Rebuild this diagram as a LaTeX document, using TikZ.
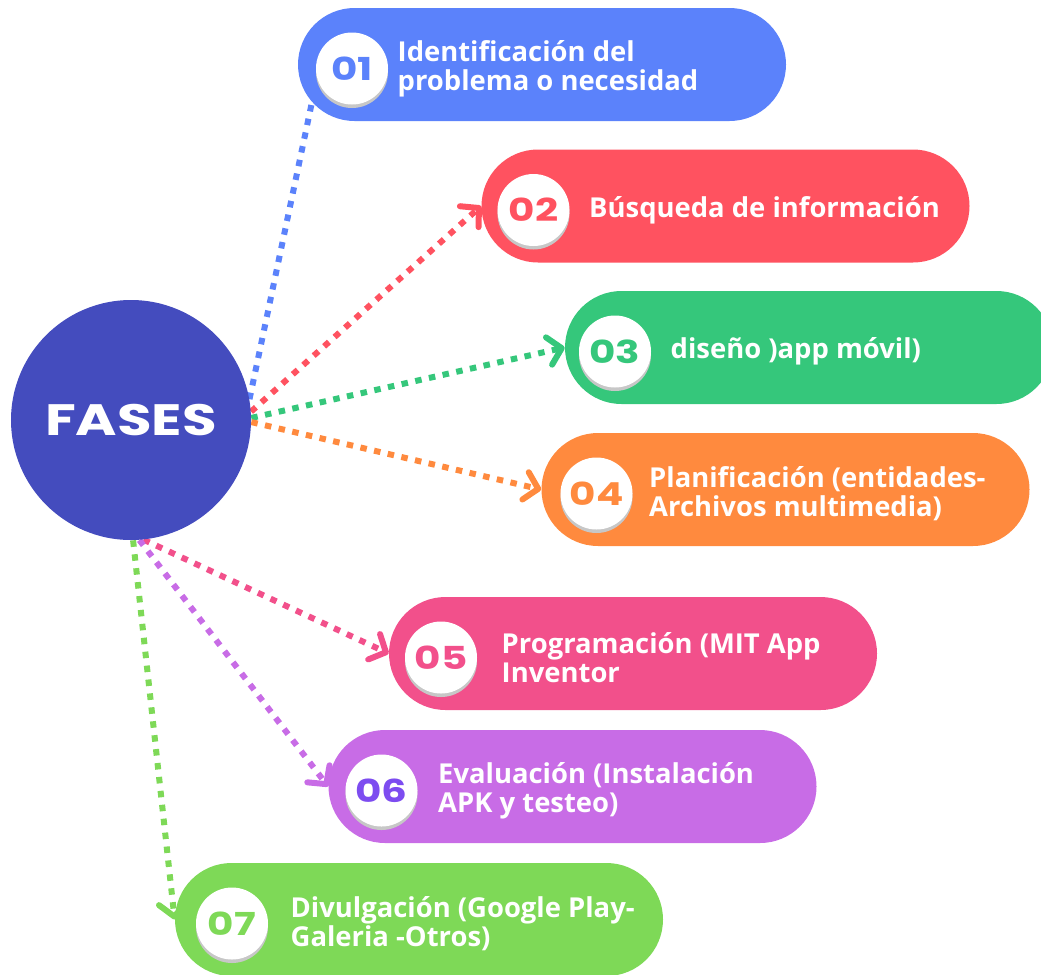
\documentclass[tikz,border=0pt]{standalone}
\usepackage{fontspec}
\setmainfont{Open Sans}
\newfontfamily\numfont{Poppins}[FakeStretch=1.28]
\usepackage{tikz}
\usepackage{xcolor}
\usetikzlibrary{shapes, arrows.meta, positioning, shadows, backgrounds}

\definecolor{fasesblue}{HTML}{444CBE}
\definecolor{pblue}{HTML}{5B82FB}
\definecolor{pred}{HTML}{FF5260}
\definecolor{pgreen}{HTML}{35C77B}
\definecolor{porange}{HTML}{FF8A3E}
\definecolor{ppink}{HTML}{F2508B}
\definecolor{ppurple}{HTML}{C86CE6}
\definecolor{pviolet}{HTML}{7D4CF0}
\definecolor{plime}{HTML}{7ED957}

\begin{document}
\begin{tikzpicture}[
        pill/.style={rectangle, rounded corners=1.13cm, minimum width=9.76cm, minimum height=2.26cm, inner sep=0pt},
        numdisc/.style={circle, fill=white, minimum size=1.44cm, inner sep=0pt, yshift=-0.08cm,
          font=\numfont\bfseries\fontsize{18}{18}\selectfont,
          drop shadow={shadow xshift=0cm, shadow yshift=-0.07cm, fill=black!22, opacity=1}},
        phase/.style={text=white, align=left, inner sep=0pt, font=\bfseries\fontsize{15.6}{16.5}\selectfont},
        link/.style={line width=0.12cm, dash pattern=on 0.13cm off 0.15cm,
          -{Straight Barb[length=0.26cm, width=0.56cm, round]}}
      ]
      \useasboundingbox (0,0) rectangle (20.82,-19.48);

      \node (fases) [circle, fill=fasesblue, minimum size=4.8cm, text=white,
        font=\numfont\bfseries\fontsize{25}{25}\selectfont] at (2.62,-8.4) {FASES};

      \node (p1) [pill, fill=pblue] at (10.84,-1.29) {};
      \node (n1) [numdisc, text=pblue, right=0.36cm of p1.west] {01};
      \node (t1) [phase, right=0.18cm of n1] {Identificación del\\problema o necesidad};

      \node (p2) [pill, fill=pred] at (14.51,-4.12) {};
      \node (n2) [numdisc, text=pred, right=0.32cm of p2.west] {02};
      \node (t2) [phase, right=0.38cm of n2] {Búsqueda de información};

      \node (p3) [pill, fill=pgreen] at (16.18,-6.95) {};
      \node (n3) [numdisc, text=pgreen, right=0.28cm of p3.west] {03};
      \node (t3) [phase, right=0.38cm of n3] {diseño )app móvil)};

      \node (p4) [pill, fill=porange] at (15.71,-9.79) {};
      \node (n4) [numdisc, text=porange, right=0.38cm of p4.west] {04};
      \node (t4) [phase, right=0.32cm of n4] {Planificación (entidades-\\Archivos multimedia)};

      \node (p5) [pill, fill=ppink] at (12.66,-13.07) {};
      \node (n5) [numdisc, text=ppink, right=0.32cm of p5.west] {05};
      \node (t5) [phase, right=0.48cm of n5] {Programación (MIT App\\Inventor};

      \node (p6) [pill, fill=ppurple] at (11.45,-15.73) {};
      \node (n6) [numdisc, text=pviolet, right=0.34cm of p6.west] {06};
      \node (t6) [phase, right=0.4cm of n6] {Evaluación (Instalación\\APK y testeo)};

      \node (p7) [pill, fill=plime] at (8.38,-18.39) {};
      \node (n7) [numdisc, text=plime, right=0.42cm of p7.west] {07};
      \node (t7) [phase, right=0.44cm of n7] {Divulgación (Google Play-\\Galeria -Otros)};

      \coordinate (e1) at ([xshift=0.3cm, yshift=0.45cm]p1.south west);

      \begin{scope}[on background layer]
        \draw[link, pblue, -] (fases.10) -- (e1);
        \draw[link, pred] (fases.4) -- (p2.west);
        \draw[link, pgreen] (fases.1) -- (p3.west);
        \draw[link, porange] (fases.-1) -- (p4.west);
        \draw[link, ppink] (fases.-84) -- (p5.west);
        \draw[link, ppurple] (fases.-86) -- (p6.west);
        \draw[link, plime] (fases.-89) -- (p7.west);
      \end{scope}
    \end{tikzpicture}
\end{document}
